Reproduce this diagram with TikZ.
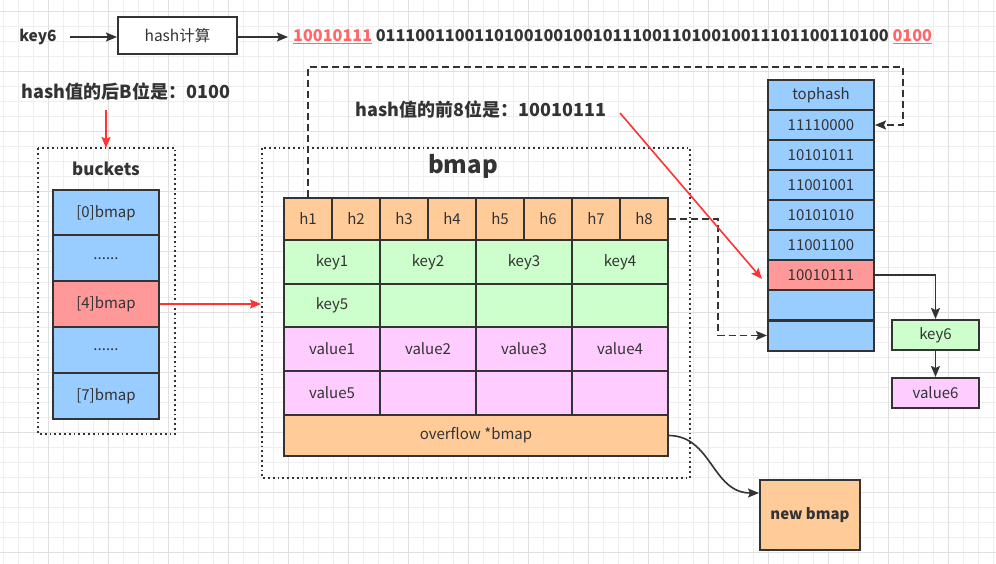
\documentclass[tikz,border=0pt]{standalone}
\usepackage{fontspec}
\setmainfont{Noto Sans CJK SC}
\usetikzlibrary{arrows.meta}
\definecolor{dark}{HTML}{333333}
\definecolor{cblue}{HTML}{99CCFF}
\definecolor{cred}{HTML}{FF9999}
\definecolor{corange}{HTML}{FFCC99}
\definecolor{cgreen}{HTML}{CCFFCC}
\definecolor{cpink}{HTML}{FFCCFF}
\definecolor{redline}{HTML}{FF3333}
\definecolor{redtext}{HTML}{FF6666}
\definecolor{gridminor}{HTML}{EFEFEF}
\definecolor{gridmajor}{HTML}{E0E0E0}
\begin{document}
\begin{tikzpicture}[x=1pt,y=-1pt,
  box/.style={draw=dark, line width=2pt, inner sep=0pt, text=dark, font=\fontsize{15}{17}\selectfont},
  hcell/.style={box, fill=corange, minimum width=48pt, minimum height=42pt},
  kcell/.style={box, fill=cgreen, minimum width=96pt, minimum height=44pt},
  vcell/.style={box, fill=cpink, minimum width=96pt, minimum height=44pt},
  bcell/.style={box, fill=cblue, minimum width=106pt, minimum height=46pt},
  tcell/.style={box, fill=cblue, minimum width=106pt, minimum height=30pt},
  dotbox/.style={draw=dark, line width=1.8pt, dash pattern=on 1.8pt off 3pt},
  boldlabel/.style={text=dark, inner sep=0pt, font=\fontsize{18}{21}\selectfont\bfseries},
  arr/.style={draw=dark, line width=1.6pt, -{Stealth[length=11pt,width=9pt,inset=2pt]}},
  dasharr/.style={arr, dash pattern=on 7pt off 4pt},
  redarr/.style={draw=redline, line width=1.6pt, -{Stealth[length=11pt,width=9pt,inset=2pt]}}
]
\useasboundingbox (0,0) rectangle (996,564);
\fill[white] (0,0) rectangle (996,564);
% grid
\foreach \x in {3,18,...,993} \draw[gridminor, line width=1pt] (\x,0) -- (\x,564);
\foreach \y in {12,27,...,560} \draw[gridminor, line width=1pt] (0,\y) -- (996,\y);
\foreach \x in {48,108,...,993} \draw[gridmajor, line width=1pt] (\x,0) -- (\x,564);
\foreach \y in {12,72,...,560} \draw[gridmajor, line width=1pt] (0,\y) -- (996,\y);

% top line
\node[boldlabel, font=\fontsize{15.5}{18}\selectfont\bfseries] (key6) at (38,37) {key6};
\node[box, fill=white, minimum width=119pt, minimum height=37pt, font=\fontsize{15.5}{18}\selectfont] (hash) at (177.5,35.5) {hash计算};
\coordinate (k6e) at (70,37);
\draw[arr] (k6e) -- (hash.west |- k6e);
\node[boldlabel, anchor=west, font=\fontsize{16.2}{19}\selectfont\bfseries] (bits) at (293,37) {{\color{redtext}\underline{10010111}} 0111001100110100100100101110011010010011101100110100 {\color{redtext}\underline{0100}}};
\draw[arr] (hash.east |- k6e) -- ([xshift=-5pt]bits.west |- k6e);

% labels
\node[boldlabel] (lastB) at (126,92) {hash值的后B位是：0100};
\node[boldlabel] (first8) at (481,110) {hash值的前8位是：10010111};

% buckets
\draw[dotbox] (38,148) rectangle (175,434);
\coordinate (bucktop) at (106,148);
\node[boldlabel, font=\fontsize{17}{20}\selectfont\bfseries] (buckets) at (106,169) {buckets};
\node[bcell] (b0) at (106,213) {[0]bmap};
\node[bcell] (b1) at (106,258.5) {......};
\node[bcell, fill=cred] (b4) at (106,304) {[4]bmap};
\node[bcell] (b5) at (106,350) {......};
\node[bcell] (b7) at (106,396) {[7]bmap};
\coordinate (lastBs) at (106,110);
\draw[redarr] (lastBs) -- (bucktop);

% bmap
\draw[dotbox] (262,148) rectangle (690,478);
\node[boldlabel, font=\fontsize{24}{28}\selectfont\bfseries] (bmaptitle) at (463,166) {bmap};
\coordinate (bmapW) at (261,304);
\draw[redarr] (b4.east) -- (bmapW);

\foreach \i in {1,...,8} {
  \node[hcell] (h\i) at ({284+48*(\i-1)+24},219) {h\i};
}
\node[kcell] (k1) at (332,262) {key1};
\node[kcell] (k2) at (428,262) {key2};
\node[kcell] (k3) at (524,262) {key3};
\node[kcell] (k4) at (620,262) {key4};
\node[kcell, minimum height=43pt] (k5) at (332,305.5) {key5};
\node[kcell, minimum height=43pt] (k6) at (428,305.5) {};
\node[kcell, minimum height=43pt] (k7) at (524,305.5) {};
\node[kcell, minimum height=43pt] (k8) at (620,305.5) {};
\node[vcell] (v1) at (332,349) {value1};
\node[vcell] (v2) at (428,349) {value2};
\node[vcell] (v3) at (524,349) {value3};
\node[vcell] (v4) at (620,349) {value4};
\node[vcell] (v5) at (332,393) {value5};
\node[vcell] (v6) at (428,393) {};
\node[vcell] (v7) at (524,393) {};
\node[vcell] (v8) at (620,393) {};
\node[box, fill=corange, minimum width=384pt, minimum height=41pt] (ov) at (476,435.5) {overflow *bmap};

% tophash
\node[tcell] (t0) at (821,95) {tophash};
\node[tcell] (t1) at (821,125) {11110000};
\node[tcell] (t2) at (821,155) {10101011};
\node[tcell] (t3) at (821,185) {11001001};
\node[tcell] (t4) at (821,215) {10101010};
\node[tcell] (t5) at (821,245) {11001100};
\node[tcell, fill=cred] (t6) at (821,275) {10010111};
\node[tcell] (t7) at (821,305) {};
\node[tcell] (t8) at (821,335.5) {};

% key6 / value6
\node[box, fill=cgreen, minimum width=87pt, minimum height=30pt] (nk6) at (935.5,335) {key6};
\node[box, fill=cpink, minimum width=87pt, minimum height=30pt] (nv6) at (935.5,393) {value6};
\draw[arr] (t6.east) -| (nk6.north);
\draw[arr] (nk6.south) -- (nv6.north);

% dashed connectors
\draw[dasharr] (h1.north) -- (308,67) -- (903,67) |- (t1.east);
\draw[dasharr] (h8.east) -- (718,219) |- (t8.west);

% red diagonal
\coordinate (rs) at (620,113);
\coordinate (re) at (762,279);
\draw[redarr] (rs) -- (re);

% new bmap
\node[box, fill=corange, minimum width=100pt, minimum height=70pt, font=\fontsize{15}{18}\selectfont\bfseries] (nb) at (810,515) {new bmap};
\draw[arr] (ov.east) .. controls (712,436) and (712,493) .. ([yshift=22pt]nb.west);
\end{tikzpicture}
\end{document}
